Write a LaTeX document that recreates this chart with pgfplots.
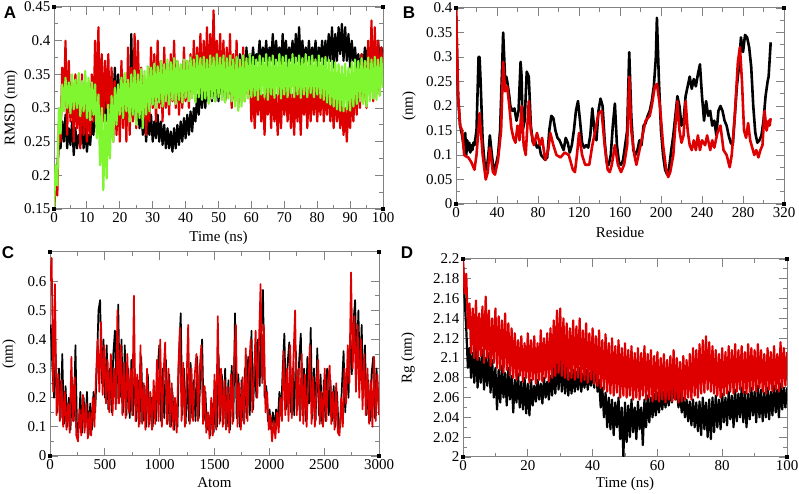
\documentclass[border=0pt]{standalone}
\usepackage{pgfplots}
\pgfplotsset{compat=1.18}
\usepackage{fontspec}
\setmainfont{Liberation Serif}
\newfontfamily\panelfont{Liberation Sans}
\definecolor{gred}{RGB}{222,0,0}
\definecolor{ggreen}{RGB}{128,246,48}
\definecolor{gframe}{RGB}{130,130,130}
\pgfplotsset{grace/.style={scale only axis, anchor=south west,
  axis line style={gframe, line width=1pt},
  tick style={gframe, line width=0.9pt},
  tick align=inside, major tick length=8pt, minor tick length=4pt,
  minor x tick num=1, minor y tick num=1,
  /pgf/number format/assume math mode=true,
  /pgf/number format/fixed, /pgf/number format/1000 sep={},
  tick label style={font=\fontsize{15}{16}\selectfont, text=black},
  label style={font=\fontsize{15}{16}\selectfont},
  every axis plot/.append style={line join=round, mark=none},
  after end axis/.code={
    \fill[black] (rel axis cs:0,0) ++(-2pt,-2pt) rectangle ++(4pt,4pt);
    \fill[black] (rel axis cs:1,0) ++(-2pt,-2pt) rectangle ++(4pt,4pt);
    \fill[black] (rel axis cs:0,1) ++(-2pt,-2pt) rectangle ++(4pt,4pt);
    \fill[black] (rel axis cs:1,1) ++(-2pt,-2pt) rectangle ++(4pt,4pt);
  }}}
\begin{document}
\begin{tikzpicture}
\useasboundingbox (0pt,0pt) rectangle (799pt,494pt);
% ---------------- Panel A ----------------
\begin{axis}[grace, at={(54pt,285pt)}, width=329pt, height=202pt,
  xmin=0, xmax=100, ymin=0.15, ymax=0.45,
  xtick={0,10,...,100}, ytick={0.15,0.2,0.25,0.3,0.35,0.4,0.45},
  xlabel={Time (ns)}, ylabel={RMSD (nm)},
  x label style={at={([yshift=-29pt]axis description cs:0.5,0)}, anchor=center},
  y label style={at={([xshift=-43pt]axis description cs:0,0.5)}, anchor=center}]
\addplot[black, line width=2.2pt] coordinates {
(0,.150)(0.5,.19)(1,.21)(1.5,.25)(2,.24)(2.5,.28)(3,.25)(3.5,.29)(4,.24)(4.5,.27)(5,.245)(5.5,.28)(6,.23)(6.5,.27)(7,.24)(7.5,.26)(8,.245)(8.5,.28)(9,.24)(9.5,.27)
(10,.235)(10.5,.26)(11,.245)(11.5,.28)(12,.26)(12.5,.30)(13,.27)(13.5,.31)(14,.28)(14.5,.33)(15,.29)(15.5,.32)(16,.28)(16.5,.31)(17,.30)(17.5,.34)(18,.31)(18.5,.36)(19,.30)(19.5,.35)
(20,.30)(20.5,.34)(21,.29)(21.5,.33)(22,.28)(22.5,.33)(23,.30)(23.5,.41)(24,.29)(24.5,.34)(25,.28)(25.5,.31)(26,.27)(26.5,.30)(27,.26)(27.5,.29)(28,.25)(28.5,.285)(29,.26)(29.5,.29)
(30,.25)(30.5,.28)(31,.255)(31.5,.29)(32,.25)(32.5,.28)(33,.245)(33.5,.275)(34,.24)(34.5,.27)(35,.24)(35.5,.265)(36,.235)(36.5,.27)(37,.24)(37.5,.275)(38,.245)(38.5,.28)(39,.25)(39.5,.285)
(40,.255)(40.5,.29)(41,.26)(41.5,.295)(42,.265)(42.5,.30)(43,.28)(43.5,.32)(44,.29)(44.5,.33)(45,.30)(45.5,.34)(46,.30)(46.5,.35)(47,.31)(47.5,.35)(48,.31)(48.5,.36)(49,.31)(49.5,.36)
(50,.31)(50.5,.35)(51,.32)(51.5,.36)(52,.31)(52.5,.37)(53,.32)(53.5,.36)(54,.32)(54.5,.37)(55,.33)(55.5,.37)(56,.33)(56.5,.38)(57,.34)(57.5,.38)(58,.34)(58.5,.39)(59,.35)(59.5,.38)
(60,.36)(60.5,.39)(61,.36)(61.5,.38)(62,.37)(62.5,.40)(63,.36)(63.5,.39)(64,.37)(64.5,.40)(65,.36)(65.5,.39)(66,.37)(66.5,.41)(67,.36)(67.5,.40)(68,.37)(68.5,.39)(69,.36)(69.5,.41)
(70,.37)(70.5,.40)(71,.36)(71.5,.39)(72,.37)(72.5,.40)(73,.36)(73.5,.41)(74,.37)(74.5,.42)(75,.36)(75.5,.40)(76,.36)(76.5,.39)(77,.37)(77.5,.40)(78,.36)(78.5,.39)(79,.37)(79.5,.40)
(80,.36)(80.5,.39)(81,.37)(81.5,.40)(82,.36)(82.5,.40)(83,.37)(83.5,.41)(84,.37)(84.5,.42)(85,.36)(85.5,.41)(86,.37)(86.5,.42)(87,.38)(87.5,.425)(88,.37)(88.5,.42)(89,.37)(89.5,.41)
(90,.36)(90.5,.40)(91,.37)(91.5,.39)(92,.36)(92.5,.38)(93,.35)(93.5,.38)(94,.36)(94.5,.39)(95,.37)(95.5,.39)(96,.37)(96.5,.40)(97,.36)(97.5,.39)(98,.37)(98.5,.40)(99,.37)(99.5,.39)(100,.38)};
\addplot[gred, line width=2.2pt] coordinates {
(0,.150)(0.5,.20)(1,.17)(1.5,.28)(2,.25)(2.5,.36)(3,.30)(3.5,.40)(4,.26)(4.5,.37)(5,.28)(5.5,.34)(6,.25)(6.5,.35)(7,.27)(7.5,.33)(8,.24)(8.5,.35)(9,.26)(9.5,.32)
(10,.25)(10.5,.30)(11,.26)(11.5,.35)(12,.28)(12.5,.40)(13,.30)(13.5,.42)(14,.27)(14.5,.38)(15,.28)(15.5,.37)(16,.30)(16.5,.38)(17,.27)(17.5,.36)(18,.25)(18.5,.34)(19,.26)(19.5,.33)
(20,.25)(20.5,.37)(21,.27)(21.5,.35)(22,.25)(22.5,.39)(23,.26)(23.5,.36)(24,.28)(24.5,.41)(25,.27)(25.5,.40)(26,.29)(26.5,.36)(27,.28)(27.5,.34)(28,.26)(28.5,.33)(29,.28)(29.5,.39)
(30,.30)(30.5,.38)(31,.28)(31.5,.40)(32,.30)(32.5,.37)(33,.28)(33.5,.39)(34,.30)(34.5,.36)(35,.29)(35.5,.38)(36,.31)(36.5,.40)(37,.30)(37.5,.37)(38,.29)(38.5,.36)(39,.30)(39.5,.39)
(40,.31)(40.5,.37)(41,.30)(41.5,.38)(42,.32)(42.5,.40)(43,.31)(43.5,.39)(44,.33)(44.5,.41)(45,.32)(45.5,.40)(46,.33)(46.5,.42)(47,.32)(47.5,.41)(48,.34)(48.5,.445)(49,.33)(49.5,.40)
(50,.32)(50.5,.41)(51,.33)(51.5,.40)(52,.31)(52.5,.39)(53,.32)(53.5,.41)(54,.30)(54.5,.38)(55,.31)(55.5,.40)(56,.30)(56.5,.37)(57,.32)(57.5,.39)(58,.31)(58.5,.37)(59,.32)(59.5,.36)
(60,.28)(60.5,.34)(61,.27)(61.5,.33)(62,.29)(62.5,.34)(63,.28)(63.5,.32)(64,.26)(64.5,.33)(65,.29)(65.5,.34)(66,.27)(66.5,.33)(67,.28)(67.5,.32)(68,.26)(68.5,.33)(69,.27)(69.5,.34)
(70,.29)(70.5,.33)(71,.28)(71.5,.34)(72,.27)(72.5,.32)(73,.26)(73.5,.34)(74,.28)(74.5,.33)(75,.26)(75.5,.34)(76,.29)(76.5,.33)(77,.27)(77.5,.34)(78,.28)(78.5,.33)(79,.29)(79.5,.34)
(80,.28)(80.5,.33)(81,.29)(81.5,.35)(82,.28)(82.5,.33)(83,.29)(83.5,.34)(84,.28)(84.5,.32)(85,.27)(85.5,.33)(86,.28)(86.5,.32)(87,.27)(87.5,.31)(88,.26)(88.5,.30)(89,.25)(89.5,.31)
(90,.27)(90.5,.32)(91,.28)(91.5,.34)(92,.29)(92.5,.36)(93,.30)(93.5,.38)(94,.31)(94.5,.37)(95,.30)(95.5,.40)(96,.32)(96.5,.43)(97,.31)(97.5,.42)(98,.33)(98.5,.40)(99,.32)(99.5,.39)(100,.35)};
\addplot[ggreen, line width=2.2pt] coordinates {
(0,.152)(0.5,.215)(1,.185)(1.5,.30)(2,.262)(2.5,.335)(3,.295)(3.5,.345)(4,.300)(4.5,.338)(5,.292)(5.5,.350)(6,.298)(6.5,.342)(7,.300)(7.5,.352)(8,.288)(8.5,.340)(9,.295)(9.5,.355)
(10,.285)(10.5,.345)(11,.282)(11.5,.338)(12,.290)(12.5,.335)(13,.255)(13.5,.320)(14,.215)(14.5,.300)(15,.178)(15.5,.290)(16,.195)(16.5,.305)(17,.225)(17.5,.318)(18,.250)(18.5,.330)(19,.275)(19.5,.335)
(20,.290)(20.5,.345)(21,.285)(21.5,.352)(22,.295)(22.5,.342)(23,.280)(23.5,.350)(24,.290)(24.5,.356)(25,.275)(25.5,.350)(26,.285)(26.5,.358)(27,.270)(27.5,.355)(28,.290)(28.5,.362)(29,.295)(29.5,.360)
(30,.305)(30.5,.366)(31,.300)(31.5,.362)(32,.308)(32.5,.370)(33,.302)(33.5,.365)(34,.310)(34.5,.372)(35,.305)(35.5,.368)(36,.312)(36.5,.374)(37,.306)(37.5,.370)(38,.312)(38.5,.365)(39,.308)(39.5,.372)
(40,.315)(40.5,.370)(41,.310)(41.5,.375)(42,.314)(42.5,.372)(43,.308)(43.5,.378)(44,.316)(44.5,.374)(45,.312)(45.5,.376)(46,.314)(46.5,.372)(47,.306)(47.5,.378)(48,.314)(48.5,.375)(49,.310)(49.5,.380)
(50,.316)(50.5,.375)(51,.312)(51.5,.378)(52,.308)(52.5,.374)(53,.314)(53.5,.378)(54,.310)(54.5,.372)(55,.302)(55.5,.376)(56,.296)(56.5,.372)(57,.302)(57.5,.378)(58,.310)(58.5,.374)(59,.314)(59.5,.380)
(60,.316)(60.5,.376)(61,.318)(61.5,.372)(62,.312)(62.5,.378)(63,.320)(63.5,.374)(64,.316)(64.5,.380)(65,.312)(65.5,.375)(66,.320)(66.5,.378)(67,.315)(67.5,.372)(68,.320)(68.5,.380)(69,.314)(69.5,.376)
(70,.320)(70.5,.378)(71,.316)(71.5,.372)(72,.322)(72.5,.380)(73,.316)(73.5,.375)(74,.320)(74.5,.378)(75,.315)(75.5,.374)(76,.320)(76.5,.380)(77,.316)(77.5,.376)(78,.322)(78.5,.378)(79,.316)(79.5,.372)
(80,.320)(80.5,.378)(81,.315)(81.5,.374)(82,.312)(82.5,.376)(83,.308)(83.5,.372)(84,.305)(84.5,.370)(85,.302)(85.5,.368)(86,.298)(86.5,.365)(87,.296)(87.5,.362)(88,.295)(88.5,.366)(89,.298)(89.5,.360)
(90,.296)(90.5,.368)(91,.302)(91.5,.372)(92,.306)(92.5,.370)(93,.310)(93.5,.374)(94,.306)(94.5,.370)(95,.302)(95.5,.375)(96,.310)(96.5,.372)(97,.314)(97.5,.376)(98,.312)(98.5,.372)(99,.318)(99.5,.375)(100,.330)};
\end{axis}
\node[font=\panelfont\bfseries\fontsize{17}{17}\selectfont] at (10pt,481pt) {A};
% ---------------- Panel B ----------------
\begin{axis}[grace, at={(456pt,290pt)}, width=328pt, height=196pt,
  xmin=0, xmax=320, ymin=0, ymax=0.4,
  xtick={0,40,...,320}, ytick={0,0.05,0.1,0.15,0.2,0.25,0.3,0.35,0.4},
  xlabel={Residue}, ylabel={(nm)},
  x label style={at={([yshift=-28pt]axis description cs:0.5,0)}, anchor=center},
  y label style={at={([xshift=-47pt]axis description cs:0,0.5)}, anchor=center}]
\addplot[black, line width=2.6pt] coordinates {
(0,.40)(2,.22)(4,.16)(6,.14)(8,.11)(9,.145)(10,.10)(11,.13)(12,.11)(13,.125)(14,.105)(15,.12)(16,.11)(17,.125)(18,.12)(20,.15)(22,.30)(23,.30)(24,.25)(26,.13)(28,.08)(30,.07)(32,.11)(33,.14)(35,.10)(37,.065)(39,.08)
(41,.10)(43,.15)(45,.28)(46,.35)(47,.30)(48,.25)(49,.26)(50,.25)(52,.22)(53,.20)(55,.19)(57,.195)(59,.17)(61,.19)(63,.29)(64,.26)(65,.15)(67,.17)(69,.27)(71,.26)(73,.16)(75,.125)(77,.13)(79,.115)
(81,.12)(83,.10)(85,.095)(87,.09)(89,.095)(91,.15)(93,.18)(95,.175)(97,.15)(99,.135)(101,.13)(103,.12)(105,.11)(107,.135)(109,.125)(111,.105)(113,.12)(115,.15)(117,.19)(119,.21)
(121,.17)(123,.125)(125,.115)(127,.12)(129,.115)(131,.14)(133,.195)(135,.15)(137,.13)(139,.19)(141,.215)(143,.20)(145,.13)(147,.085)(149,.08)(151,.10)(153,.16)(155,.205)(157,.12)(159,.085)
(161,.08)(163,.09)(165,.12)(167,.15)(169,.31)(171,.18)(173,.11)(175,.10)(177,.11)(179,.13)(181,.12)(183,.16)(185,.165)(187,.18)(189,.19)(191,.21)(193,.24)(195,.30)(196,.38)(198,.25)
(200,.15)(202,.10)(204,.07)(206,.06)(208,.075)(210,.11)(212,.14)(214,.18)(216,.22)(218,.20)(220,.16)(222,.17)(224,.22)(226,.24)(228,.26)(230,.235)(232,.255)(234,.24)(236,.265)(238,.285)
(240,.22)(242,.17)(244,.21)(246,.18)(248,.19)(250,.16)(252,.17)(254,.14)(256,.19)(258,.20)(260,.19)(262,.17)(264,.16)(266,.14)(268,.125)(270,.12)(272,.18)(274,.24)(276,.28)(278,.34)
(280,.31)(282,.345)(284,.34)(286,.32)(288,.28)(290,.20)(292,.145)(294,.125)(296,.13)(298,.14)(300,.17)(302,.22)(304,.25)(305,.26)(307,.33)};
\addplot[gred, line width=2.6pt] coordinates {
(0,.40)(2,.22)(4,.16)(6,.15)(8,.10)(10,.097)(12,.095)(15,.085)(18,.07)(20,.10)(23,.185)(26,.10)(29,.05)(31,.065)(33,.115)(36,.065)(38,.06)(41,.09)(44,.15)(46,.29)
(48,.23)(50,.24)(52,.20)(54,.155)(56,.135)(58,.125)(60,.16)(62,.13)(64,.20)(66,.12)(68,.10)(71,.21)(73,.15)(76,.12)(79,.145)(82,.12)(84,.135)(87,.09)(90,.11)(92,.145)
(95,.12)(98,.10)(102,.095)(106,.105)(110,.10)(114,.07)(116,.065)(118,.10)(120,.145)(123,.10)(126,.08)(130,.08)(133,.12)(135,.14)(139,.185)(142,.19)(145,.12)(148,.07)(150,.065)(152,.08)
(155,.12)(158,.08)(161,.065)(164,.08)(167,.12)(169,.26)(171,.15)(174,.10)(176,.08)(178,.10)(182,.14)(185,.17)(189,.18)(191,.20)(194,.24)(196,.245)(199,.20)(202,.12)(205,.07)(207,.055)
(209,.065)(212,.10)(214,.16)(216,.21)(218,.15)(220,.125)(222,.14)(224,.21)(226,.15)(228,.12)(230,.11)(232,.13)(234,.11)(236,.14)(238,.11)(240,.13)(243,.12)(245,.14)(248,.11)(250,.13)
(252,.115)(255,.145)(258,.16)(261,.11)(264,.10)(267,.075)(269,.10)(272,.18)(275,.29)(277,.32)(279,.25)(281,.15)(283,.135)(285,.165)(287,.13)(289,.115)(291,.10)(293,.11)(295,.095)(297,.11)
(299,.12)(301,.19)(303,.15)(305,.17)(306,.16)(307,.175)};
\end{axis}
\node[font=\panelfont\bfseries\fontsize{17}{17}\selectfont] at (409pt,481pt) {B};
% ---------------- Panel C ----------------
\begin{axis}[grace, at={(50pt,38pt)}, width=329pt, height=204pt,
  xmin=0, xmax=3000, ymin=0, ymax=0.7,
  xtick={0,500,...,3000}, ytick={0,0.1,0.2,0.3,0.4,0.5,0.6},
  xlabel={Atom}, ylabel={(nm)},
  x label style={at={([yshift=-27pt]axis description cs:0.5,0)}, anchor=center},
  y label style={at={([xshift=-41pt]axis description cs:0,0.5)}, anchor=center}]
\addplot[black, line width=1.7pt] coordinates {
(7,.45)(22,.30)(37,.20)(52,.35)(67,.15)(82,.30)(97,.13)(112,.35)(127,.11)(142,.24)(157,.10)(172,.20)(187,.09)(202,.26)(217,.12)(232,.38)(247,.08)(262,.10)(277,.22)(292,.08)
(307,.20)(322,.10)(337,.22)(352,.07)(367,.18)(382,.09)(397,.22)(412,.15)(427,.30)(442,.50)(457,.535)(472,.25)(487,.40)(502,.20)(517,.38)(532,.16)(547,.30)(562,.15)(577,.35)(592,.43)
(607,.18)(622,.52)(637,.20)(652,.40)(667,.15)(682,.38)(697,.14)(712,.30)(727,.13)(742,.33)(757,.14)(772,.30)(787,.12)(802,.26)(817,.11)(832,.34)(847,.12)(862,.24)(877,.10)(892,.28)
(907,.11)(922,.20)(937,.10)(952,.24)(967,.12)(982,.30)(997,.38)(1012,.12)(1027,.30)(1042,.13)(1057,.33)(1072,.11)(1087,.28)(1102,.10)(1117,.22)(1132,.09)(1147,.18)(1162,.10)(1177,.35)(1192,.49)
(1207,.14)(1222,.30)(1237,.11)(1252,.28)(1267,.12)(1282,.32)(1297,.13)(1312,.26)(1327,.12)(1342,.34)(1357,.13)(1372,.28)(1387,.40)(1402,.12)(1417,.22)(1432,.09)(1447,.14)(1462,.07)(1477,.18)(1492,.08)
(1507,.25)(1522,.10)(1537,.35)(1552,.12)(1567,.28)(1582,.11)(1597,.30)(1612,.10)(1627,.26)(1642,.09)(1657,.31)(1672,.12)(1687,.49)(1702,.13)(1717,.28)(1732,.10)(1747,.26)(1762,.12)(1777,.30)(1792,.13)
(1807,.34)(1822,.14)(1837,.43)(1852,.16)(1867,.32)(1882,.20)(1897,.40)(1912,.24)(1927,.45)(1942,.57)(1957,.20)(1972,.24)(1987,.12)(2002,.16)(2017,.09)(2032,.15)(2047,.10)(2062,.16)(2077,.12)(2092,.22)
(2107,.14)(2122,.30)(2137,.42)(2152,.16)(2167,.32)(2182,.39)(2197,.15)(2212,.30)(2227,.14)(2242,.36)(2257,.16)(2272,.33)(2287,.42)(2302,.14)(2317,.30)(2332,.12)(2347,.34)(2362,.18)(2377,.44)(2392,.13)
(2407,.30)(2422,.12)(2437,.37)(2452,.14)(2467,.28)(2482,.11)(2497,.26)(2512,.12)(2527,.30)(2542,.14)(2557,.26)(2572,.12)(2587,.24)(2602,.10)(2617,.22)(2632,.09)(2647,.10)(2662,.24)(2677,.36)(2692,.15)
(2707,.30)(2722,.20)(2737,.42)(2752,.28)(2767,.46)(2782,.535)(2797,.30)(2812,.50)(2827,.26)(2842,.45)(2857,.20)(2872,.38)(2887,.14)(2902,.26)(2917,.12)(2932,.28)(2947,.34)(2962,.13)(2977,.30)(2992,.20)};
\addplot[gred, line width=1.7pt] coordinates {
(0,.60)(15,.68)(30,.22)(45,.59)(60,.14)(75,.28)(90,.12)(105,.26)(120,.10)(135,.22)(150,.09)(165,.18)(180,.08)(195,.34)(210,.12)(225,.27)(240,.07)(255,.05)(270,.16)(285,.07)
(300,.21)(315,.08)(330,.18)(345,.06)(360,.15)(375,.07)(390,.20)(405,.10)(420,.28)(435,.40)(450,.22)(465,.46)(480,.21)(495,.38)(510,.18)(525,.33)(540,.15)(555,.35)(570,.14)(585,.30)
(600,.16)(615,.50)(630,.18)(645,.38)(660,.14)(675,.32)(690,.13)(705,.35)(720,.15)(735,.30)(750,.14)(765,.55)(780,.12)(795,.28)(810,.10)(825,.38)(840,.11)(855,.25)(870,.09)(885,.30)
(900,.10)(915,.22)(930,.09)(945,.26)(960,.11)(975,.33)(990,.12)(1005,.40)(1020,.10)(1035,.28)(1050,.39)(1065,.11)(1080,.30)(1095,.10)(1110,.25)(1125,.09)(1140,.20)(1155,.08)(1170,.30)(1185,.44)
(1200,.12)(1215,.32)(1230,.10)(1245,.26)(1260,.45)(1275,.11)(1290,.30)(1305,.12)(1320,.28)(1335,.35)(1350,.12)(1365,.30)(1380,.38)(1395,.11)(1410,.24)(1425,.08)(1440,.15)(1455,.06)(1470,.20)(1485,.07)
(1500,.28)(1515,.09)(1530,.48)(1545,.11)(1560,.30)(1575,.10)(1590,.26)(1605,.09)(1620,.24)(1635,.08)(1650,.28)(1665,.11)(1680,.33)(1695,.45)(1710,.10)(1725,.25)(1740,.09)(1755,.27)(1770,.11)(1785,.37)
(1800,.12)(1815,.30)(1830,.40)(1845,.15)(1860,.28)(1875,.43)(1890,.20)(1905,.38)(1920,.59)(1935,.25)(1950,.45)(1965,.15)(1980,.22)(1995,.09)(2010,.14)(2025,.05)(2040,.12)(2055,.06)(2070,.15)(2085,.08)
(2100,.20)(2115,.12)(2130,.36)(2145,.14)(2160,.30)(2175,.12)(2190,.38)(2205,.13)(2220,.34)(2235,.50)(2250,.14)(2265,.30)(2280,.12)(2295,.35)(2310,.11)(2325,.28)(2340,.10)(2355,.25)(2370,.38)(2385,.11)
(2400,.27)(2415,.10)(2430,.24)(2445,.33)(2460,.11)(2475,.22)(2490,.10)(2505,.30)(2520,.12)(2535,.26)(2550,.31)(2565,.11)(2580,.22)(2595,.09)(2610,.25)(2625,.08)(2640,.07)(2655,.20)(2670,.10)(2685,.30)
(2700,.18)(2715,.38)(2730,.25)(2745,.63)(2760,.30)(2775,.48)(2790,.22)(2805,.45)(2820,.20)(2835,.40)(2850,.16)(2865,.35)(2880,.14)(2895,.30)(2910,.11)(2925,.26)(2940,.10)(2955,.34)(2970,.12)(2985,.28)(3000,.14)};
\end{axis}
\node[font=\panelfont\bfseries\fontsize{17}{17}\selectfont] at (8pt,241pt) {C};
% ---------------- Panel D ----------------
\begin{axis}[grace, at={(463pt,37pt)}, width=324pt, height=198pt,
  xmin=0, xmax=100, ymin=2, ymax=2.2,
  xtick={0,20,...,100}, ytick={2,2.02,2.04,2.06,2.08,2.1,2.12,2.14,2.16,2.18,2.2},
  xlabel={Time (ns)}, ylabel={Rg (nm)},
  x label style={at={([yshift=-27pt]axis description cs:0.5,0)}, anchor=center},
  y label style={at={([xshift=-55pt]axis description cs:0,0.5)}, anchor=center}]
\addplot[black, line width=2.2pt] coordinates {
(0,2.195)(0.5,2.16)(1,2.13)(1.5,2.09)(2,2.11)(2.5,2.08)(3,2.105)(3.5,2.075)(4,2.11)(4.5,2.07)(5,2.10)(5.5,2.075)(6,2.108)(6.5,2.068)(7,2.10)(7.5,2.072)(8,2.105)(8.5,2.065)(9,2.098)(9.5,2.06)
(10,2.09)(10.5,2.048)(11,2.088)(11.5,2.055)(12,2.092)(12.5,2.06)(13,2.085)(13.5,2.052)(14,2.09)(14.5,2.058)(15,2.082)(15.5,2.045)(16,2.078)(16.5,2.055)(17,2.084)(17.5,2.05)(18,2.076)(18.5,2.048)(19,2.08)(19.5,2.044)
(20,2.074)(20.5,2.042)(21,2.078)(21.5,2.052)(22,2.072)(22.5,2.056)(23,2.078)(23.5,2.058)(24,2.074)(24.5,2.054)(25,2.08)(25.5,2.06)(26,2.076)(26.5,2.058)(27,2.082)(27.5,2.062)(28,2.09)(28.5,2.064)(29,2.10)(29.5,2.068)
(30,2.102)(30.5,2.066)(31,2.095)(31.5,2.064)(32,2.09)(32.5,2.062)(33,2.085)(33.5,2.064)(34,2.088)(34.5,2.066)(35,2.086)(35.5,2.068)(36,2.09)(36.5,2.066)(37,2.084)(37.5,2.07)(38,2.088)(38.5,2.068)(39,2.085)(39.5,2.072)
(40,2.09)(40.5,2.07)(41,2.112)(41.5,2.066)(42,2.078)(42.5,2.05)(43,2.07)(43.5,2.04)(44,2.065)(44.5,2.03)(45,2.06)(45.5,2.028)(46,2.058)(46.5,2.022)(47,2.055)(47.5,2.03)(48,2.06)(48.5,2.018)(49,2.05)(49.5,2.00)
(50,2.055)(50.5,2.015)(51,2.052)(51.5,2.02)(52,2.058)(52.5,2.025)(53,2.05)(53.5,2.018)(54,2.056)(54.5,2.028)(55,2.05)(55.5,2.012)(56,2.058)(56.5,2.03)(57,2.062)(57.5,2.035)(58,2.06)(58.5,2.04)(59,2.064)(59.5,2.042)
(60,2.065)(60.5,2.045)(61,2.068)(61.5,2.048)(62,2.066)(62.5,2.05)(63,2.068)(63.5,2.052)(64,2.07)(64.5,2.055)(65,2.072)(65.5,2.058)(66,2.068)(66.5,2.05)(67,2.064)(67.5,2.045)(68,2.06)(68.5,2.04)(69,2.058)(69.5,2.036)
(70,2.056)(70.5,2.032)(71,2.058)(71.5,2.03)(72,2.055)(72.5,2.026)(73,2.056)(73.5,2.022)(74,2.06)(74.5,2.028)(75,2.055)(75.5,2.02)(76,2.058)(76.5,2.018)(77,2.06)(77.5,2.025)(78,2.062)(78.5,2.03)(79,2.058)(79.5,2.028)
(80,2.064)(80.5,2.035)(81,2.06)(81.5,2.032)(82,2.066)(82.5,2.038)(83,2.062)(83.5,2.03)(84,2.068)(84.5,2.036)(85,2.064)(85.5,2.04)(86,2.07)(86.5,2.035)(87,2.066)(87.5,2.03)(88,2.064)(88.5,2.038)(89,2.07)(89.5,2.042)
(90,2.066)(90.5,2.035)(91,2.072)(91.5,2.04)(92,2.068)(92.5,2.036)(93,2.065)(93.5,2.04)(94,2.07)(94.5,2.038)(95,2.066)(95.5,2.042)(96,2.072)(96.5,2.045)(97,2.068)(97.5,2.04)(98,2.074)(98.5,2.048)(99,2.07)(99.5,2.05)(100,2.07)};
\addplot[gred, line width=2.2pt] coordinates {
(0,2.200)(0.5,2.165)(1,2.185)(1.5,2.13)(2,2.155)(2.5,2.105)(3,2.150)(3.5,2.100)(4,2.158)(4.5,2.098)(5,2.145)(5.5,2.102)(6,2.152)(6.5,2.095)(7,2.162)(7.5,2.100)(8,2.148)(8.5,2.092)(9,2.140)(9.5,2.095)
(10,2.150)(10.5,2.090)(11,2.142)(11.5,2.088)(12,2.138)(12.5,2.085)(13,2.145)(13.5,2.088)(14,2.135)(14.5,2.082)(15,2.130)(15.5,2.080)(16,2.125)(16.5,2.078)(17,2.118)(17.5,2.082)(18,2.122)(18.5,2.076)(19,2.115)(19.5,2.080)
(20,2.125)(20.5,2.075)(21,2.118)(21.5,2.078)(22,2.122)(22.5,2.074)(23,2.115)(23.5,2.078)(24,2.128)(24.5,2.076)(25,2.120)(25.5,2.080)(26,2.125)(26.5,2.076)(27,2.130)(27.5,2.080)(28,2.138)(28.5,2.082)(29,2.148)(29.5,2.085)
(30,2.150)(30.5,2.082)(31,2.140)(31.5,2.080)(32,2.135)(32.5,2.078)(33,2.130)(33.5,2.080)(34,2.138)(34.5,2.078)(35,2.132)(35.5,2.080)(36,2.140)(36.5,2.076)(37,2.128)(37.5,2.078)(38,2.135)(38.5,2.075)(39,2.125)(39.5,2.078)
(40,2.130)(40.5,2.074)(41,2.122)(41.5,2.072)(42,2.128)(42.5,2.070)(43,2.118)(43.5,2.068)(44,2.124)(44.5,2.066)(45,2.115)(45.5,2.064)(46,2.120)(46.5,2.062)(47,2.112)(47.5,2.065)(48,2.118)(48.5,2.060)(49,2.110)(49.5,2.062)
(50,2.115)(50.5,2.060)(51,2.108)(51.5,2.062)(52,2.112)(52.5,2.058)(53,2.105)(53.5,2.060)(54,2.110)(54.5,2.058)(55,2.105)(55.5,2.062)(56,2.112)(56.5,2.058)(57,2.104)(57.5,2.060)(58,2.108)(58.5,2.056)(59,2.102)(59.5,2.058)
(60,2.106)(60.5,2.056)(61,2.100)(61.5,2.058)(62,2.104)(62.5,2.055)(63,2.098)(63.5,2.058)(64,2.102)(64.5,2.056)(65,2.108)(65.5,2.058)(66,2.100)(66.5,2.055)(67,2.096)(67.5,2.056)(68,2.102)(68.5,2.058)(69,2.098)(69.5,2.060)
(70,2.104)(70.5,2.058)(71,2.110)(71.5,2.062)(72,2.108)(72.5,2.060)(73,2.114)(73.5,2.064)(74,2.118)(74.5,2.065)(75,2.122)(75.5,2.068)(76,2.116)(76.5,2.066)(77,2.112)(77.5,2.064)(78,2.108)(78.5,2.062)(79,2.104)(79.5,2.060)
(80,2.110)(80.5,2.062)(81,2.106)(81.5,2.064)(82,2.112)(82.5,2.066)(83,2.108)(83.5,2.064)(84,2.114)(84.5,2.066)(85,2.108)(85.5,2.068)(86,2.112)(86.5,2.065)(87,2.106)(87.5,2.064)(88,2.114)(88.5,2.066)(89,2.110)(89.5,2.068)
(90,2.108)(90.5,2.066)(91,2.114)(91.5,2.070)(92,2.108)(92.5,2.066)(93,2.104)(93.5,2.064)(94,2.110)(94.5,2.068)(95,2.106)(95.5,2.066)(96,2.112)(96.5,2.068)(97,2.104)(97.5,2.066)(98,2.116)(98.5,2.070)(99,2.110)(99.5,2.072)(100,2.106)};
\end{axis}
\node[font=\panelfont\bfseries\fontsize{17}{17}\selectfont] at (407pt,241pt) {D};
\end{tikzpicture}
\end{document}
